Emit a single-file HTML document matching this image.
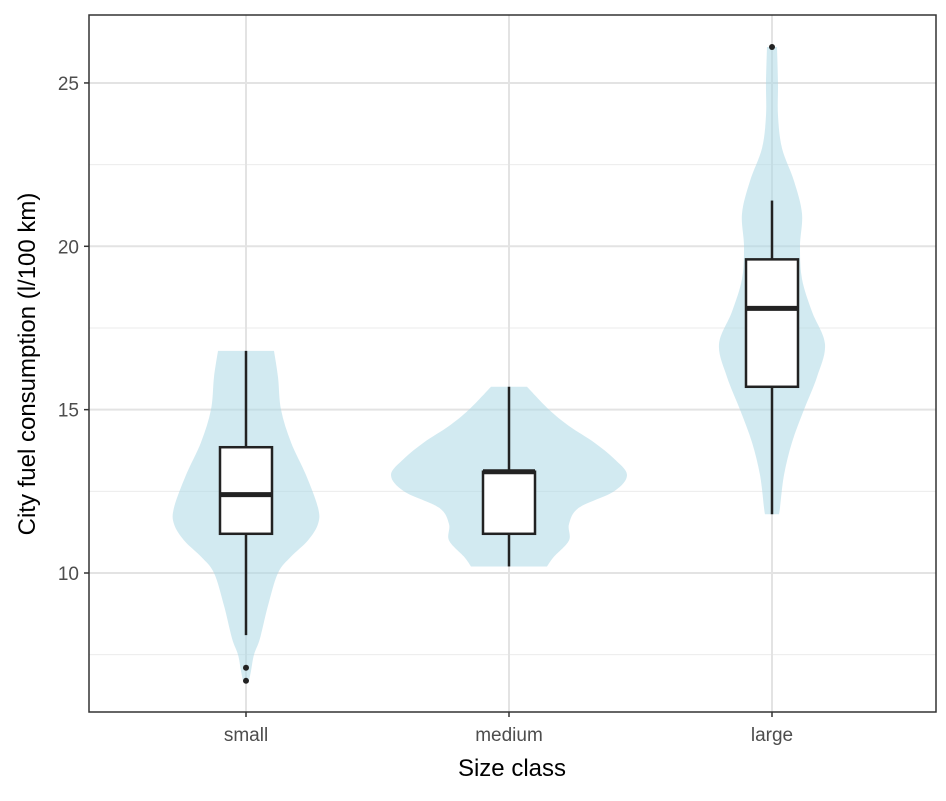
<!DOCTYPE html>
<html><head><meta charset="utf-8"><style>
body{margin:0;background:#fff}
svg text{font-family:"Liberation Sans",sans-serif}
</style></head><body>
<svg id="chart" width="946" height="796"></svg>
<script>
const categories=["small","medium","large"];
const violinValues=[
 [16.8,16,15,14,13,12,11.5,11,10.5,10,9,8,7.5,7,6.7],
 [15.7,15,14.5,14,13.5,13,12.5,12,11.5,11,10.5,10.2],
 [26.1,25,24,23,22,21,20,19,18,17,16,15,14,13,12,11.8]];
const violinDensity=[
 [28,32,35,45,60,72,72,62,45,32,22,14,8,5,3],
 [18,40,60,85,105,118,105,70,60,60,45,38],
 [5,6,6,10,22,30,28,30,40,53,45,32,20,12,8,7]];
const boxLower=[8.1,10.2,11.8];
const boxQ1=[11.2,11.2,15.7];
const boxMedian=[12.4,13.1,18.1];
const boxQ3=[13.85,13.1,19.6];
const boxUpper=[16.8,15.7,21.4];
const outliers=[[7.1,6.7],[],[26.1]];
const yTicks=[10,15,20,25];
const yMinor=[7.5,12.5,17.5,22.5];

const NS="http://www.w3.org/2000/svg";
const svg=document.getElementById('chart');
const L=89,R=936,T=15,B=712;
const y=v=>573-(v-10)*32.67;
const x=i=>246+i*263;
function mk(t,a,p){const e=document.createElementNS(NS,t);for(const k in a)e.setAttribute(k,a[k]);(p||svg).appendChild(e);return e;}
const bg=mk('rect',{x:L,y:T,width:R-L,height:B-T,fill:'#fff'});


yMinor.forEach(v=>{const l=mk('line',{x1:L,x2:R,y1:y(v),y2:y(v),stroke:'#ebebeb','stroke-width':1});

});
yTicks.forEach(v=>{const l=mk('line',{x1:L,x2:R,y1:y(v),y2:y(v),stroke:'#e3e3e3','stroke-width':2});

});
categories.forEach((c,i)=>{const l=mk('line',{x1:x(i),x2:x(i),y1:T,y2:B,stroke:'#e3e3e3','stroke-width':2});

});
function smooth(pts){let d='M'+pts[0][0]+','+pts[0][1];
for(let i=0;i<pts.length-1;i++){const p0=pts[Math.max(0,i-1)],p1=pts[i],p2=pts[i+1],p3=pts[Math.min(pts.length-1,i+2)];
d+=' C'+(p1[0]+(p2[0]-p0[0])/6)+','+(p1[1]+(p2[1]-p0[1])/6)+' '+(p2[0]-(p3[0]-p1[0])/6)+','+(p2[1]-(p3[1]-p1[1])/6)+' '+p2[0]+','+p2[1];}
return d;}
categories.forEach((c,i)=>{
 const vs=violinValues[i],ds=violinDensity[i];
 const right=vs.map((v,j)=>[x(i)+ds[j],y(v)]);
 const left=vs.map((v,j)=>[x(i)-ds[j],y(v)]).reverse();
 let d=smooth(right)+' L'+left[0][0]+','+left[0][1]+smooth(left).replace(/^M[^C]*/,' ')+'Z';
 const p=mk('path',{d:d,fill:'#add8e6','fill-opacity':0.55});
 
 
 const g=mk('g',{});
 
 
 mk('line',{x1:x(i),x2:x(i),y1:y(boxUpper[i]),y2:y(boxQ3[i]),stroke:'#222','stroke-width':2.5},g);
 mk('line',{x1:x(i),x2:x(i),y1:y(boxQ1[i]),y2:y(boxLower[i]),stroke:'#222','stroke-width':2.5},g);
 mk('rect',{x:x(i)-26,y:y(boxQ3[i]),width:52,height:y(boxQ1[i])-y(boxQ3[i]),fill:'#fff',stroke:'#222','stroke-width':2.5},g);
 mk('line',{x1:x(i)-26,x2:x(i)+26,y1:y(boxMedian[i]),y2:y(boxMedian[i]),stroke:'#222','stroke-width':5},g);
 outliers[i].forEach(o=>{const c2=mk('circle',{cx:x(i),cy:y(o),r:3,fill:'#222'});
 
 });
 const t=mk('text',{x:x(i),y:741,'text-anchor':'middle','font-size':19,fill:'#4d4d4d'});t.textContent=c;
 
 
 mk('line',{x1:x(i),x2:x(i),y1:B,y2:B+5,stroke:'#333','stroke-width':1.5});
});
yTicks.forEach(v=>{const t=mk('text',{x:79,y:y(v)+7,'text-anchor':'end','font-size':19,fill:'#4d4d4d'});t.textContent=v;


mk('line',{x1:L-5,x2:L,y1:y(v),y2:y(v),stroke:'#333','stroke-width':1.5});});
const fr=mk('rect',{x:L,y:T,width:R-L,height:B-T,fill:'none',stroke:'#333','stroke-width':1.5});


const xt=mk('text',{x:512,y:776,'text-anchor':'middle','font-size':24,fill:'#000'});xt.textContent='Size class';


const yt=mk('text',{x:0,y:0,'text-anchor':'middle','font-size':24,fill:'#000',transform:'translate(35,364) rotate(-90)'});yt.textContent='City fuel consumption (l/100 km)';


</script>
</body></html>
